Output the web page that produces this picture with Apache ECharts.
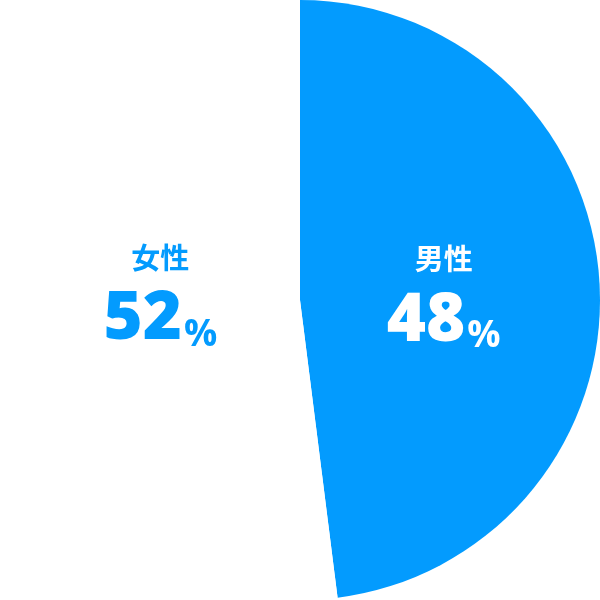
<!DOCTYPE html>
<html>
<head>
<meta charset="utf-8">
<script src="https://cdn.jsdelivr.net/npm/echarts@6/dist/echarts.min.js"></script>
<style>
html,body{margin:0;padding:0;background:#fff;}
#c{width:600px;height:600px;}
</style>
</head>
<body>
<div id="c"></div>
<script>
const categories = ['男性', '女性'];
const values = [48, 52];
const sliceColors = ['#039BFE', '#FFFFFF'];
const textColors = ['#FFFFFF', '#039BFE'];
const labelShift = [[-9, 6], [13, -15]];

const chart = echarts.init(document.getElementById('c'), null, {renderer: 'canvas'});

function richFor(color) {
  return {
    a: {fontFamily: '"Noto Sans CJK JP"', fontWeight: 700, fontSize: 29, color: color, lineHeight: 44, align: 'center'},
    b: {fontFamily: '"Open Sans"', fontWeight: 800, fontSize: 67, color: color, lineHeight: 74, verticalAlign: 'bottom'},
    c: {fontFamily: '"Open Sans"', fontWeight: 700, fontSize: 37, color: color, lineHeight: 74, verticalAlign: 'bottom', padding: [0, 0, 0, 2]}
  };
}

const data = categories.map((name, i) => ({
  name: name,
  value: values[i],
  itemStyle: {color: sliceColors[i]},
  label: {
    formatter: '{a|{b}}\n{b|{c}}{c|%}',
    rich: richFor(textColors[i])
  }
}));

chart.setOption({
  backgroundColor: '#ffffff',
  animation: false,
  series: [{
    type: 'pie',
    radius: ['0%', '100%'],
    center: ['50%', '50%'],
    startAngle: 90,
    clockwise: true,
    silent: true,
    itemStyle: {borderWidth: 0},
    label: {show: true, position: 'inside', align: 'center'},
    labelLine: {show: false},
    labelLayout: function (params) {
      const s = labelShift[params.dataIndex];
      return {dx: s[0], dy: s[1]};
    },
    data: data
  }]
});
</script>
</body>
</html>
